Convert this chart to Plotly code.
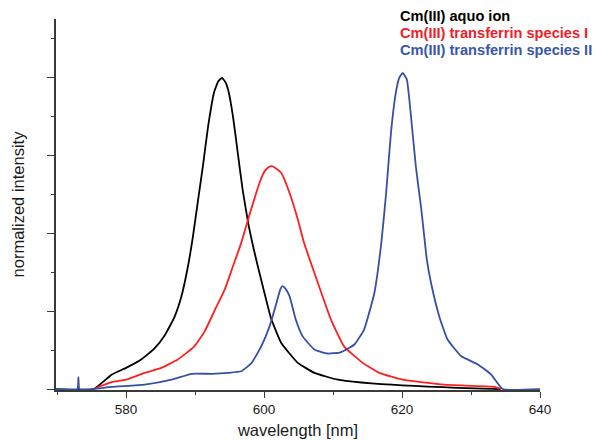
import plotly.graph_objects as go

# ---- data ----
aquo_x = [569.85, 575.3, 577.9, 580.0, 582.2, 584.1, 585.6, 587.0, 588.0, 588.9, 589.7, 590.4,
          591.2, 591.9, 592.8, 593.4, 593.9, 594.4, 594.8, 595.5, 596.2, 596.9, 597.7, 598.5,
          599.1, 600.1, 601.0, 602.5, 604.9, 607.3, 610.7, 614.1, 617.0, 620.0, 623.7, 628.0,
          634.3]
aquo_y = [0.0, 0.0, 0.046, 0.068, 0.095, 0.130, 0.172, 0.230, 0.295, 0.385, 0.49, 0.600,
          0.725, 0.843, 0.955, 0.988, 0.998, 0.985, 0.96, 0.875, 0.757, 0.640, 0.533, 0.45,
          0.394, 0.305, 0.228, 0.148, 0.084, 0.052, 0.030, 0.021, 0.016, 0.012, 0.008, 0.004,
          0.0]

sp1_x = [575.3, 577.9, 580.0, 582.7, 585.1, 587.5, 589.9, 591.4, 592.8, 594.3, 595.5, 596.7,
         597.7, 598.6, 599.4, 600.1, 600.7, 601.1, 601.6, 602.5, 603.7, 604.9, 605.8, 607.8,
         609.7, 611.6, 614.3, 616.7, 620.1, 626.1, 633.4, 634.4]
sp1_y = [0.0, 0.022, 0.030, 0.052, 0.068, 0.095, 0.137, 0.185, 0.250, 0.319, 0.394, 0.469,
         0.545, 0.61, 0.665, 0.699, 0.712, 0.715, 0.71, 0.693, 0.629, 0.544, 0.469, 0.341,
         0.223, 0.137, 0.084, 0.052, 0.030, 0.014, 0.007, 0.0]

sp2_x = [569.85, 572.95, 573.1, 573.25, 575.3, 577.9, 582.7, 586.6, 589.5, 592.4, 594.8, 596.7,
         598.2, 599.6, 600.8, 601.8, 602.4, 602.7, 603.1, 603.7, 604.6, 605.6, 607.3, 609.2,
         611.1, 613.1, 614.5, 616.0, 617.0, 617.7, 618.4, 619.1, 619.6, 620.1, 620.7, 621.3,
         622.0, 622.8, 623.6, 624.2, 625.4, 626.6, 628.6, 631.0, 632.9, 634.6, 640.0]
sp2_y = [0.0, 0.0, 0.038, 0.0, 0.0, 0.007, 0.014, 0.030, 0.049, 0.049, 0.052, 0.057,
         0.084, 0.137, 0.201, 0.276, 0.322, 0.33, 0.322, 0.298, 0.223, 0.169, 0.127, 0.114,
         0.118, 0.143, 0.191, 0.309, 0.469, 0.629, 0.822, 0.95, 0.998, 1.014, 0.993, 0.875,
         0.715, 0.576, 0.415, 0.341, 0.233, 0.159, 0.105, 0.079, 0.047, 0.0, 0.0]

series_names = ["Cm(III) aquo ion", "Cm(III) transferrin species I", "Cm(III) transferrin species II"]
series_colors = ["#000000", "#ff1f1f", "#3450a4"]
label_colors = ["#000000", "#f0202a", "#3a56a8"]

x_ticks = [580, 600, 620, 640]

fig = go.Figure()
for xs, ys, name, col in [(aquo_x, aquo_y, series_names[0], series_colors[0]),
                          (sp1_x, sp1_y, series_names[1], series_colors[1]),
                          (sp2_x, sp2_y, series_names[2], series_colors[2])]:
    fig.add_trace(go.Scatter(x=xs, y=ys, mode="lines", name=name,
                             line=dict(color=col, width=1.8, shape="spline", smoothing=0.4),
                             showlegend=False))

# legend as coloured bold text lines
for i, (name, col) in enumerate(zip(series_names, label_colors)):
    fig.add_annotation(xref="paper", yref="paper", x=0.7068, y=1.0088 - i * 0.0459,
                       xanchor="left", yanchor="middle", showarrow=False, text="<b>%s</b>" % name,
                       font=dict(family="Liberation Sans, Arial, sans-serif", size=14.6, color=col))

axis_col = "#3a3a3a"
fig.update_layout(
    width=598, height=440,
    margin=dict(l=56, r=58, t=19, b=50, autoexpand=False),
    paper_bgcolor="white", plot_bgcolor="white",
    font=dict(family="Liberation Sans, Arial, sans-serif", color="#1a1a1a"),
    xaxis=dict(range=[569.85, 640], tickvals=x_ticks, ticktext=[str(v) for v in x_ticks],
               ticks="outside", ticklen=6, tickwidth=1.3, tickcolor=axis_col,
               minor=dict(dtick=10, tick0=570, ticks="outside", ticklen=3, tickwidth=1.3, tickcolor=axis_col),
               showline=True, linecolor=axis_col, linewidth=1.5, showgrid=False, zeroline=False,
               tickfont=dict(size=13.5), layer="below traces", automargin=False,
               title=dict(text="wavelength [nm]", font=dict(size=16.5), standoff=8)),
    yaxis=dict(range=[-0.003, 1.187], dtick=0.25, tick0=0, showticklabels=False,
               ticks="outside", ticklen=7, tickwidth=1.3, tickcolor=axis_col,
               minor=dict(dtick=0.125, tick0=0, ticks="outside", ticklen=3, tickwidth=1.3, tickcolor=axis_col),
               showline=True, linecolor=axis_col, linewidth=1.5, showgrid=False, zeroline=False,
               layer="below traces", automargin=False,
               title=dict(text="normalized intensity", font=dict(size=16.5), standoff=18)),
)

fig.write_html("out.html")
